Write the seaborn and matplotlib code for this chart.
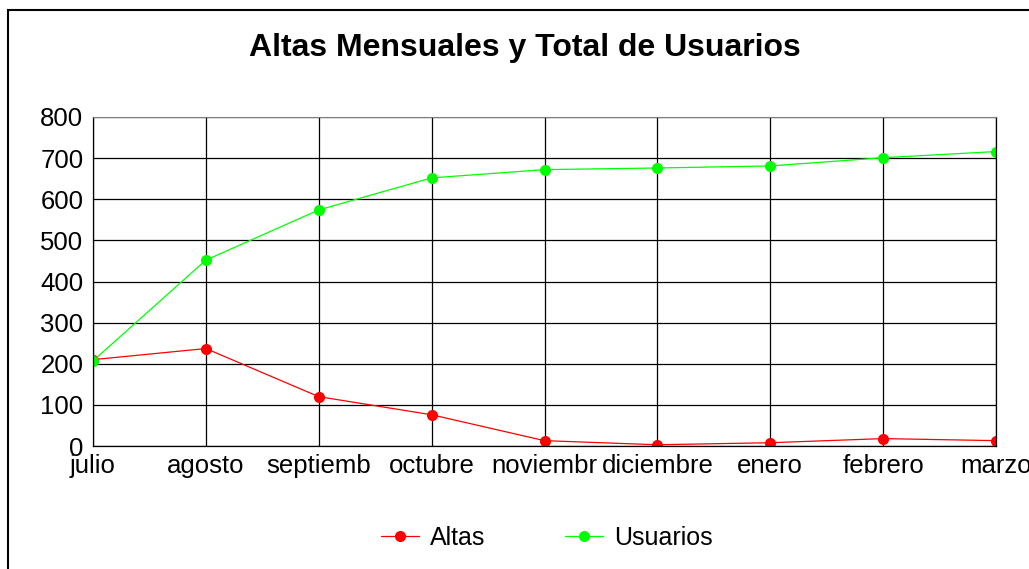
"""Altas mensuales y total de usuarios: line chart recreated with seaborn."""

import matplotlib
matplotlib.use("Agg")
import matplotlib.pyplot as plt
import pandas as pd
import seaborn as sns
from matplotlib.patches import Rectangle

MESES = ["julio", "agosto", "septiemb", "octubre", "noviembr",
         "diciembre", "enero", "febrero", "marzo"]
ALTAS = [210, 237, 120, 76, 13, 3, 8, 18, 13]
USUARIOS = [207, 452, 574, 652, 672, 676, 681, 701, 716]
SERIES = ["Altas", "Usuarios"]
COLORS = {"Altas": "#FF0000", "Usuarios": "#00FF00"}
Y_TICKS = [0, 100, 200, 300, 400, 500, 600, 700, 800]

sns.set_style("white")
plt.rcParams["font.family"] = ["Liberation Sans", "DejaVu Sans"]
plt.rcParams["text.color"] = "black"
plt.rcParams["xtick.color"] = "black"
plt.rcParams["ytick.color"] = "black"

df = pd.DataFrame({
    "mes": MESES * 2,
    "valor": ALTAS + USUARIOS,
    "serie": [SERIES[0]] * len(MESES) + [SERIES[1]] * len(MESES),
})

fig = plt.figure(figsize=(10.29, 5.69), dpi=100)
ax = fig.add_axes([93 / 1029, 1 - 446 / 569, (996 - 93) / 1029, (446 - 117) / 569])

sns.lineplot(
    data=df, x="mes", y="valor", hue="serie", palette=COLORS,
    marker="o", markersize=8, markeredgewidth=0, linewidth=0.9,
    sort=False, ax=ax, legend=False,
)

ax.set_xlim(0, len(MESES) - 1)
ax.set_ylim(0, 800)
ax.set_yticks(Y_TICKS)
ax.set_xticks(range(len(MESES)))
ax.set_xticklabels(MESES)
ax.set_xlabel("")
ax.set_ylabel("")
ax.grid(True, color="black", linewidth=0.9)
ax.set_axisbelow(True)
ax.tick_params(axis="both", labelsize=18.5, length=5, width=0.9,
               color="black", labelcolor="black", pad=1, direction="out")
ax.tick_params(axis="y", pad=2)
for side in ["left", "bottom"]:
    ax.spines[side].set_color("black")
    ax.spines[side].set_linewidth(0.9)
ax.spines["top"].set_color("#808080")
ax.spines["right"].set_color("black")
ax.spines["right"].set_linewidth(0.9)
for lbl in ax.get_xticklabels():
    lbl.set_clip_on(False)

# legend under the plot
handles = [plt.Line2D([], [], color=COLORS[s], marker="o", markersize=8,
                      markeredgewidth=0, linewidth=0.9) for s in SERIES]
fig.legend(handles, SERIES, loc="center", bbox_to_anchor=(547 / 1029, 1 - 538 / 569),
           ncol=2, frameon=False, fontsize=18, handlelength=1.5,
           handletextpad=0.45, columnspacing=3.2, labelcolor="black")

fig.text(525 / 1029, 1 - 48 / 569, "Altas Mensuales y Total de Usuarios",
         ha="center", va="center", fontsize=23, fontweight="bold", color="black")

# outer chart frame
fig.patches.append(Rectangle((8 / 1029, -0.05), 1.1, 1.05 - 10 / 569,
                             transform=fig.transFigure, fill=False,
                             edgecolor="black", linewidth=1.5))

fig.savefig("out.png", dpi=100)
plt.close(fig)
